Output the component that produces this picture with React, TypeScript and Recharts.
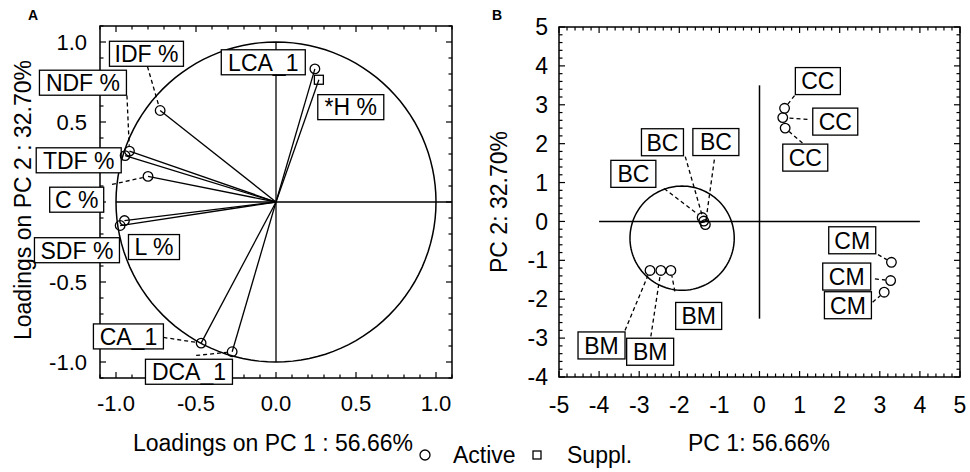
import React from 'react';
import { ScatterChart, Scatter, XAxis, YAxis, ReferenceLine, ReferenceArea, ReferenceDot } from 'recharts';

const FONT = '"Liberation Sans", Arial, Helvetica, sans-serif';

// ---------- Panel A: variable loadings ----------
const varNames = ['LCA_1', '*H %', 'IDF %', 'NDF %', 'TDF %', 'C %', 'SDF %', 'L %', 'CA_1', 'DCA_1'];
const pc1Loadings = [0.243, 0.268, -0.724, -0.916, -0.943, -0.8, -0.974, -0.947, -0.468, -0.274];
const pc2Loadings = [0.832, 0.764, 0.572, 0.318, 0.29, 0.16, -0.147, -0.116, -0.882, -0.936];
const varRoles = ['active', 'suppl', 'active', 'active', 'active', 'active', 'active', 'active', 'active', 'active'];
const aXTickValues = [-1, -0.5, 0, 0.5, 1];
// the 0.0 label on the vertical axis is hidden behind the "C %" box in the original
const aYTickValues = [-1, -0.5, 0.5, 1];
const aMajorTicks = [-1, -0.5, 0, 0.5, 1];

// ---------- Panel B: case scores ----------
const obsNames = ['BC', 'BC', 'BC', 'CC', 'CC', 'CC', 'CM', 'CM', 'CM', 'BM', 'BM', 'BM'];
const pc1Scores = [-1.43, -1.39, -1.35, 0.625, 0.58, 0.64, 3.29, 3.27, 3.11, -2.73, -2.46, -2.21];
const pc2Scores = [0.1, 0.01, -0.08, 2.91, 2.67, 2.4, -1.05, -1.52, -1.82, -1.26, -1.26, -1.26];
const bXTickValues = [-5, -4, -3, -2, -1, 0, 1, 2, 3, 4, 5];
const bYTickValues = [-4, -3, -2, -1, 0, 1, 2, 3, 4, 5];
// cluster ellipse drawn around the B group
const ellipseCenter = { x: -1.93, y: -0.43 };
const ellipseRadii = { x: 1.3, y: 1.34 };

// ---------- label layout (pixel offsets from the point: box centre, box width, leader start) ----------
type Lay = { bx: number; by: number; w: number; lx?: number; ly?: number };
const layoutA: Lay[] = [
  { bx: -51.6, by: -6.6, w: 84 },
  { bx: 31.9, by: 27.4, w: 66 },
  { bx: -13.7, by: -56.7, w: 74, lx: -12.7, ly: -44 },
  { bx: -46.5, by: -68.4, w: 87, lx: -2.5, ly: -55.7 },
  { bx: -46.4, by: 4.7, w: 85 },
  { bx: -71.3, by: 23.3, w: 54, lx: -36, ly: 8 },
  { bx: -43.2, by: 24.7, w: 85 },
  { bx: 29.5, by: 26.5, w: 51 },
  { bx: -72.7, by: -6.7, w: 70, lx: -37.7, ly: -5.7 },
  { bx: -43.2, by: 20, w: 87, lx: -36, ly: 3.7 },
];
const layoutB: Lay[] = [
  { bx: -68.8, by: -43.7, w: 45, lx: -38, ly: -29 },
  { bx: -41.3, by: -78.8, w: 42, lx: -18.5, ly: -64.5 },
  { bx: 10.5, by: -82.5, w: 46, lx: 9, ly: -65 },
  { bx: 33.3, by: -27.2, w: 45, lx: 10, ly: -12.7 },
  { bx: 52.5, by: 4, w: 45, lx: 24.7, ly: 1.7 },
  { bx: 20.1, by: 29.5, w: 45, lx: 17.3, ly: 15 },
  { bx: -39.2, by: -22, w: 47, lx: -13.4, ly: -7.7 },
  { bx: -43.9, by: -4, w: 48, lx: -15.7, ly: -1.7 },
  { bx: -36.3, by: 13, w: 47, lx: -11.6, ly: 10 },
  { bx: -48.5, by: 75, w: 47, lx: -25, ly: 60 },
  { bx: -10.7, by: 81.3, w: 47, lx: -10, ly: 66 },
  { bx: 27.8, by: 45.5, w: 46, lx: 4, ly: 21 },
];

const dataA = varNames.map((name, i) => ({ name, x: pc1Loadings[i], y: pc2Loadings[i], role: varRoles[i], idx: i }));
const dataB = obsNames.map((name, i) => ({ name, x: pc1Scores[i], y: pc2Scores[i], role: 'active', idx: i }));

const range = (a: number, b: number, s: number) => {
  const out: number[] = [];
  const n = Math.round((b - a) / s);
  for (let i = 0; i <= n; i++) out.push(Math.round((a + i * s) * 1000) / 1000);
  return out;
};

const ringPoints = (cx: number, cy: number, rx: number, ry: number) => {
  const pts: { x: number; y: number }[] = [];
  for (let d = 0; d <= 360; d += 3) {
    const t = (d * Math.PI) / 180;
    pts.push({ x: cx + rx * Math.cos(t), y: cy + ry * Math.sin(t) });
  }
  return pts;
};

const MARK_R = 4.8;

const makeLabelShape = (layout: Lay[], fs: number, bh: number) => (props: any) => {
  const { cx, cy, payload } = props;
  if (cx == null || cy == null) return <g />;
  const L = layout[payload.idx];
  let leader = null;
  if (L.lx !== undefined && L.ly !== undefined) {
    const sx = cx + L.lx;
    const sy = cy + L.ly;
    const dx = cx - sx;
    const dy = cy - sy;
    const d = Math.sqrt(dx * dx + dy * dy) || 1;
    const ex = cx - (dx / d) * (MARK_R + 0.5);
    const ey = cy - (dy / d) * (MARK_R + 0.5);
    leader = <line x1={sx} y1={sy} x2={ex} y2={ey} stroke="#000" strokeWidth={1.3} strokeDasharray="4 3" />;
  }
  const bx = cx + L.bx;
  const by = cy + L.by;
  return (
    <g>
      {leader}
      <rect x={bx - L.w / 2} y={by - bh / 2} width={L.w} height={bh} fill="#fff" stroke="#000" strokeWidth={1.3} />
      <text x={bx} y={by + fs * 0.36} textAnchor="middle" fontSize={fs} fontFamily={FONT} fill="#000">
        {payload.name}
      </text>
    </g>
  );
};

const markerShape = (props: any) => {
  const { cx, cy, payload } = props;
  if (cx == null || cy == null) return <g />;
  if (payload.role === 'suppl') {
    return <rect x={cx - 4.5} y={cy - 4.5} width={9} height={9} fill="none" stroke="#000" strokeWidth={1.3} />;
  }
  return <circle cx={cx} cy={cy} r={MARK_R} fill="none" stroke="#000" strokeWidth={1.3} />;
};

const noShape = () => <g />;

type TickSide = 'bottom' | 'top' | 'left' | 'right';
const tickShape = (side: TickSide, len: number) => (p: any) => {
  const { cx, cy } = p;
  if (cx == null || cy == null) return <g />;
  let x2 = cx;
  let y2 = cy;
  if (side === 'bottom') y2 = cy - len;
  if (side === 'top') y2 = cy + len;
  if (side === 'left') x2 = cx + len;
  if (side === 'right') x2 = cx - len;
  return <line x1={cx} y1={cy} x2={x2} y2={y2} stroke="#000" strokeWidth={1.2} />;
};

const frameTicks = (
  prefix: string,
  xMinor: number[],
  yMinor: number[],
  xMajor: number[],
  yMajor: number[],
  xd: [number, number],
  yd: [number, number]
) => {
  const els: React.ReactNode[] = [];
  xMinor.forEach((v) => {
    const len = xMajor.includes(v) ? 6 : 3.5;
    els.push(<ReferenceDot key={`${prefix}xb${v}`} x={v} y={yd[0]} ifOverflow="visible" shape={tickShape('bottom', len)} />);
    els.push(<ReferenceDot key={`${prefix}xt${v}`} x={v} y={yd[1]} ifOverflow="visible" shape={tickShape('top', len)} />);
  });
  yMinor.forEach((v) => {
    const len = yMajor.includes(v) ? 6 : 3.5;
    els.push(<ReferenceDot key={`${prefix}yl${v}`} x={xd[0]} y={v} ifOverflow="visible" shape={tickShape('left', len)} />);
    els.push(<ReferenceDot key={`${prefix}yr${v}`} x={xd[1]} y={v} ifOverflow="visible" shape={tickShape('right', len)} />);
  });
  return els;
};

const tickStyle = (fs: number) => ({ fill: '#000', fontSize: fs, fontFamily: FONT });

function PanelA() {
  const dom: [number, number] = [-1.1, 1.1];
  const minor = range(-1.1, 1.1, 0.1);
  return (
    <ScatterChart width={470} height={472} margin={{ top: 26, right: 18, bottom: 54, left: 40 }}>
      <XAxis
        type="number"
        dataKey="x"
        domain={dom}
        ticks={aXTickValues}
        tickFormatter={(v: number) => v.toFixed(1)}
        axisLine={false}
        tickLine={false}
        tickSize={6}
        tickMargin={11}
        height={40}
        tick={tickStyle(22)}
        interval={0}
      />
      <YAxis
        type="number"
        dataKey="y"
        domain={dom}
        ticks={aYTickValues}
        tickFormatter={(v: number) => v.toFixed(1)}
        axisLine={false}
        tickLine={false}
        tickSize={6}
        tickMargin={7}
        width={60}
        tick={tickStyle(22)}
        interval={0}
      />
      <ReferenceArea x1={dom[0]} x2={dom[1]} y1={dom[0]} y2={dom[1]} fill="none" fillOpacity={0} stroke="#000" strokeWidth={1.5} ifOverflow="visible" />
      {frameTicks('a', minor, minor, aMajorTicks, aMajorTicks, dom, dom)}
      <ReferenceLine segment={[{ x: -1, y: 0 }, { x: 1.1, y: 0 }]} stroke="#000" strokeWidth={1.3} />
      <ReferenceLine segment={[{ x: 0, y: -1 }, { x: 0, y: 1 }]} stroke="#000" strokeWidth={1.3} />
      {dataA.map((d) => (
        <ReferenceLine key={`ray${d.idx}`} segment={[{ x: 0, y: 0 }, { x: d.x, y: d.y }]} stroke="#000" strokeWidth={1.3} />
      ))}
      <Scatter
        data={ringPoints(0, 0, 1, 1)}
        line={{ stroke: '#000', strokeWidth: 1.5 }}
        lineJointType="linear"
        shape={noShape}
        isAnimationActive={false}
      />
      <Scatter data={dataA} shape={makeLabelShape(layoutA, 23, 25)} isAnimationActive={false} />
      <Scatter data={dataA} shape={markerShape} isAnimationActive={false} />
    </ScatterChart>
  );
}

function PanelB() {
  const xd: [number, number] = [-5, 5];
  const yd: [number, number] = [-4, 5];
  return (
    <ScatterChart width={500} height={472} margin={{ top: 27, right: 10, bottom: 55, left: 29 }}>
      <XAxis
        type="number"
        dataKey="x"
        domain={xd}
        ticks={bXTickValues}
        axisLine={false}
        tickLine={false}
        tickSize={6}
        tickMargin={14}
        height={40}
        tick={tickStyle(23)}
        interval={0}
      />
      <YAxis
        type="number"
        dataKey="y"
        domain={yd}
        ticks={bYTickValues}
        axisLine={false}
        tickLine={false}
        tickSize={6}
        tickMargin={5}
        width={60}
        tick={tickStyle(23)}
        interval={0}
      />
      <ReferenceArea x1={xd[0]} x2={xd[1]} y1={yd[0]} y2={yd[1]} fill="none" fillOpacity={0} stroke="#000" strokeWidth={1.5} ifOverflow="visible" />
      {frameTicks('b', range(-5, 5, 0.2), range(-4, 5, 0.2), bXTickValues, bYTickValues, xd, yd)}
      <ReferenceLine segment={[{ x: -4, y: 0 }, { x: 4, y: 0 }]} stroke="#000" strokeWidth={1.5} />
      <ReferenceLine segment={[{ x: 0, y: -2.5 }, { x: 0, y: 3.5 }]} stroke="#000" strokeWidth={1.5} />
      <Scatter
        data={ringPoints(ellipseCenter.x, ellipseCenter.y, ellipseRadii.x, ellipseRadii.y)}
        line={{ stroke: '#000', strokeWidth: 1.5 }}
        lineJointType="linear"
        shape={noShape}
        isAnimationActive={false}
      />
      <Scatter data={dataB} shape={makeLabelShape(layoutB, 23, 27)} isAnimationActive={false} />
      <Scatter data={dataB} shape={markerShape} isAnimationActive={false} />
    </ScatterChart>
  );
}

export default function App() {
  return (
    <div style={{ position: 'absolute', left: 0, top: 0, width: 970, height: 472, background: '#fff', overflow: 'hidden' }}>
      <div style={{ position: 'absolute', left: 0, top: 0 }}>
        <PanelA />
      </div>
      <div style={{ position: 'absolute', left: 470, top: 0 }}>
        <PanelB />
      </div>
      <svg width={970} height={472} style={{ position: 'absolute', left: 0, top: 0, pointerEvents: 'none' }} fontFamily={FONT}>
        <text x={28} y={20} fontSize={14} fontWeight="bold" fill="#000">A</text>
        <text x={492} y={20} fontSize={14} fontWeight="bold" fill="#000">B</text>
        <text x={273} y={451} fontSize={23} textAnchor="middle" fill="#000">Loadings on PC 1 : 56.66%</text>
        <text x={31} y={200} fontSize={23} textAnchor="middle" fill="#000" transform="rotate(-90 31 200)">Loadings on PC 2 : 32.70%</text>
        <text x={759} y={451} fontSize={23} textAnchor="middle" fill="#000">PC 1: 56.66%</text>
        <text x={507} y={202} fontSize={23} textAnchor="middle" fill="#000" transform="rotate(-90 507 202)">PC 2: 32.70%</text>
        <circle cx={425} cy={455} r={5} fill="none" stroke="#000" strokeWidth={1.3} />
        <text x={453} y={463} fontSize={23} fill="#000">Active</text>
        <rect x={533} y={451} width={8} height={8} fill="none" stroke="#000" strokeWidth={1.3} />
        <text x={567} y={463} fontSize={23} fill="#000">Suppl.</text>
      </svg>
    </div>
  );
}
